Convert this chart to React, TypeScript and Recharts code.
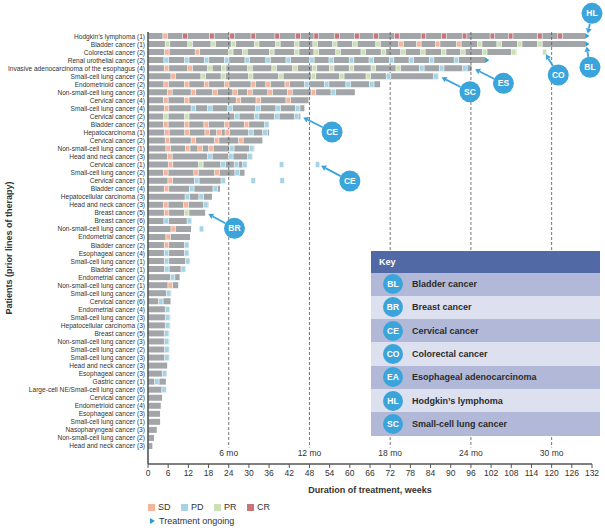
import React from 'react'
import {
  Bar,
  ComposedChart,
  ReferenceDot,
  ReferenceLine,
  Scatter,
  XAxis,
  YAxis,
} from 'recharts'

type Resp = 'SD' | 'PD' | 'PR' | 'CR'

const FONT = '"Liberation Sans", Arial, sans-serif'

const patients = [
  'Hodgkin\u2019s lymphoma (1)',
  'Bladder cancer (1)',
  'Colorectal cancer (2)',
  'Renal urothelial cancer (2)',
  'Invasive adenocarcinoma of the esophagus (4)',
  'Small-cell lung cancer (2)',
  'Endometrioid cancer (2)',
  'Non-small-cell lung cancer (3)',
  'Cervical cancer (4)',
  'Small-cell lung cancer (4)',
  'Cervical cancer (2)',
  'Bladder cancer (2)',
  'Hepatocarcinoma (1)',
  'Cervical cancer (2)',
  'Non-small-cell lung cancer (1)',
  'Head and neck cancer (3)',
  'Cervical cancer (1)',
  'Small-cell lung cancer (2)',
  'Cervical cancer (1)',
  'Bladder cancer (4)',
  'Hepatocellular carcinoma (3)',
  'Head and neck cancer (3)',
  'Breast cancer  (5)',
  'Breast cancer (6)',
  'Non-small-cell lung cancer (2)',
  'Endometrial cancer (3)',
  'Bladder cancer (2)',
  'Esophageal cancer (4)',
  'Small-cell lung cancer (1)',
  'Bladder cancer (1)',
  'Endometrial cancer (2)',
  'Non-small-cell lung cancer (1)',
  'Small-cell lung cancer (2)',
  'Cervical cancer (6)',
  'Endometrial cancer (4)',
  'Small-cell lung cancer (3)',
  'Hepatocellular carcinoma (3)',
  'Breast cancer (5)',
  'Non-small-cell lung cancer (3)',
  'Small-cell lung cancer (2)',
  'Small-cell lung cancer (3)',
  'Head and neck cancer (3)',
  'Esophageal cancer (3)',
  'Gastric cancer (1)',
  'Large-cell NE/Small-cell lung cancer (6)',
  'Cervical cancer (2)',
  'Endometrioid cancer (4)',
  'Esophageal cancer (3)',
  'Small-cell lung cancer (1)',
  'Nasopharyngeal cancer (3)',
  'Non-small-cell lung cancer (2)',
  'Head and neck cancer (3)',
]

// weeks on treatment, one per patient row
const weeksOnTreatment = [
  130, 130, 109.5, 100.2, 96.2, 86.3, 69, 61.5, 47.7, 46.5, 45.3, 36, 36, 34,
  31.6, 31, 29.3, 28.7, 22.9, 21.4, 19, 18, 17, 13, 12.8, 12.5, 12.2, 12.2,
  12.5, 11.2, 9.4, 9, 6.9, 6.7, 6.5, 6.6, 6.6, 6.3, 6.3, 6.3, 6.3, 5.7, 5.6,
  5.3, 5.3, 4.2, 3.8, 3.6, 3.6, 2.6, 1.8, 1.3,
]

// rows still on treatment
const ongoingRows = [0, 1, 3]

// response assessments per row (week of each scan)
const visits: [Resp, number[]][][] = [
  [['SD', [5.1]], ['CR', [11, 19, 25, 31.3, 38.4, 44.6, 50, 56.2, 62.1, 67.8, 74, 81.9, 88, 94.1, 102.4, 107.8, 116.5, 122.5]]],
  [['PR', [5.8, 12.5, 19.4, 25.4, 32.3, 38.6, 44.2, 49.7, 55.5, 61.5, 68.4, 98.6, 104.4, 110.5, 116.5]], ['SD', [75.2, 80.5, 86.1, 92.4]]],
  [['SD', [5.6, 14.7]], ['PR', [24.6, 28.8, 36.8, 44.2, 50, 56.5, 64, 70, 75.8, 81.7, 87.9, 93.6, 100.1, 108.7, 117.9]]],
  [['PD', [5.4, 11.5, 17.4, 23.4, 29.5, 35.7, 41.7, 48.7, 54.5, 60.5, 66.4, 72.4, 78.3, 84.3, 91.7]]],
  [['SD', [5.5, 12.5]], ['PR', [18.4, 22.5, 30.3, 37.5, 43.7, 49.5, 54.6, 60.5, 67, 74.4]], ['PD', [81.4, 87.3, 94.2]]],
  [['SD', [7.5]], ['PR', [16.4, 22.4, 30.5, 39.5, 49.2, 57.6, 65.5]], ['PD', [71.5, 85.6]]],
  [['SD', [5.4, 11.5, 17.4, 23.4, 31.3, 35.7, 41.4]], ['PD', [47.2, 53.1, 59.5, 66.5]]],
  [['SD', [6.5, 13.5, 19.9, 25.9, 30.3, 36.3, 42.2, 49.2]], ['PD', [55.1]]],
  [['SD', [5.3, 11.5, 26.9, 32.8, 41.7]]],
  [['SD', [5.5]], ['PD', [13.5, 18.4, 24.4, 32.7, 38.7, 44.5]]],
  [['PR', [5.3, 11.5]], ['PD', [26.4, 32.3, 38.3, 44.2]]],
  [['SD', [5.3, 11.5, 17.3, 23.4, 29.3]], ['PD', [35.3]]],
  [['SD', [5.6, 11.6, 17.6, 21.1, 23.6]], ['PD', [30.6, 34.8]]],
  [['SD', [5.8, 13.5, 20.4, 27.6]]],
  [['SD', [6, 11.8, 15.5, 18.7]], ['PD', [24.9, 30.8]]],
  [['SD', [6.5]], ['PD', [18.4, 24.6, 30.3]]],
  [['SD', [6.7]], ['PR', [15.7]], ['PD', [22.3, 26.3, 28.8, 39.7, 50.4]]],
  [['SD', [5.3, 14.3, 20.5]], ['PD', [26.5]]],
  [['SD', [6.6]], ['PD', [14.5, 22.4, 31.3, 39.9]]],
  [['SD', [5.5]], ['PD', [13, 20]]],
  [['PD', [11.7, 15.8]]],
  [['SD', [5.3, 11.3]], ['PD', [17.2]]],
  [['SD', [5.5]], ['PR', [11.5]]],
  [['PD', [5.4, 12.3]]],
  [['SD', [7.5]], ['PD', [15.9]]],
  [['SD', [6]]],
  [['SD', [5.5]], ['PD', [11.5]]],
  [['PD', [5.5, 11.5]]],
  [['PD', [5.5, 11.8]]],
  [['PD', [5.6, 10.5]]],
  [['PD', [7.3]]],
  [['SD', [6.6]]],
  [['PD', [6.1]]],
  [['PD', [3.8]]],
  [['PD', [5.8]]],
  [['PD', [5.8]]],
  [['PD', [5.8]]],
  [['PD', [5.5]]],
  [['PD', [5.5]]],
  [['PD', [5.6]]],
  [['PD', [5.6]]],
  [],
  [['PD', [4.9]]],
  [['PD', [2.6]]],
  [['PD', [4.8]]],
  [],
  [],
  [],
  [],
  [],
  [],
  [],
]

const weekTicks = [0, 6, 12, 18, 24, 30, 36, 42, 48, 54, 60, 66, 72, 78, 84, 90, 96, 102, 108, 114, 120, 126, 132]
const monthMarks: [number, string][] = [[24, '6 mo'], [48, '12 mo'], [72, '18 mo'], [96, '24 mo'], [120, '30 mo']]

// callout bubbles: abbreviation, row, week they point at, bubble offset in px
const callouts: [string, number, number, number, number][] = [
  ['HL', 0, 130.6, 4.7, -22.7],
  ['BL', 1, 130.3, 3.7, 23.2],
  ['CO', 2, 117.9, 13.7, 22.9],
  ['ES', 4, 96.6, 30.5, 15.2],
  ['SC', 5, 86.6, 30.7, 15.5],
  ['CE', 10, 45.5, 31, 15.6],
  ['CE', 16, 50.8, 31, 16.4],
  ['BR', 22, 17.3, 28.3, 15.5],
]

const keyEntries: [string, string][] = [
  ['BL', 'Bladder cancer'],
  ['BR', 'Breast cancer'],
  ['CE', 'Cervical cancer'],
  ['CO', 'Colorectal cancer'],
  ['EA', 'Esophageal adenocarcinoma'],
  ['HL', 'Hodgkin\u2019s lymphoma'],
  ['SC', 'Small-cell lung cancer'],
]

const respOrder: Resp[] = ['SD', 'PD', 'PR', 'CR']
const respColor: Record<Resp, string> = {
  SD: '#f4b59c',
  PD: '#a6d4e4',
  PR: '#cde0b5',
  CR: '#c8757a',
}
const BAR_GRAY = '#a2a6a9'
const BUBBLE = '#3ba4da'
const ONGOING = '#2d9ccf'

const rows = patients.map((label, row) => ({ row, label, dur: weeksOnTreatment[row] }))
const scans = visits.flatMap((list, row) =>
  list.flatMap(([resp, weeks]) => weeks.map((week) => ({ row, week, resp })))
)
const ongoing = ongoingRows.map((row) => ({ row, week: weeksOnTreatment[row] }))

function PatientTick(props: any) {
  const { x, y, payload } = props
  return (
    <text x={x + 1} y={y} textAnchor="end" dominantBaseline="central" fontSize={6.6} fill="#333">
      {patients[payload.value]}
    </text>
  )
}

function ScanMark(props: any) {
  const { cx, cy, payload } = props
  if (cx == null || cy == null) return null
  return (
    <rect
      x={cx - 2.3}
      y={cy - 3}
      width={4.6}
      height={6}
      fill={respColor[payload.resp as Resp]}
      stroke="#fff"
      strokeWidth={0.6}
    />
  )
}

function OngoingMark(props: any) {
  const { cx, cy } = props
  if (cx == null || cy == null) return null
  return <polygon points={`${cx},${cy - 2.8} ${cx},${cy + 2.8} ${cx + 4.2},${cy}`} fill={ONGOING} />
}

function Bubble({ cx, cy, code, dx, dy }: { cx: number; cy: number; code: string; dx: number; dy: number }) {
  const bx = cx + dx
  const by = cy + dy
  const len = Math.hypot(dx, dy)
  const ux = -dx / len
  const uy = -dy / len
  const r = 10.5
  const tipX = cx - ux * 2.5
  const tipY = cy - uy * 2.5
  const baseX = tipX - ux * 5
  const baseY = tipY - uy * 5
  const nx = -uy
  const ny = ux
  return (
    <g>
      <line x1={bx + ux * r} y1={by + uy * r} x2={baseX} y2={baseY} stroke={BUBBLE} strokeWidth={1.8} />
      <polygon
        points={`${tipX},${tipY} ${baseX + nx * 3},${baseY + ny * 3} ${baseX - nx * 3},${baseY - ny * 3}`}
        fill={BUBBLE}
      />
      <circle cx={bx} cy={by} r={r} fill={BUBBLE} />
      <text
        x={bx}
        y={by}
        textAnchor="middle"
        dominantBaseline="central"
        fill="#fff"
        fontSize={8.5}
        fontWeight="bold"
      >
        {code}
      </text>
    </g>
  )
}

function KeyBox() {
  return (
    <div
      style={{
        position: 'absolute',
        left: 371,
        top: 251,
        width: 229,
        fontFamily: FONT,
        fontWeight: 'bold',
        fontSize: 9,
      }}
    >
      <div
        style={{
          height: 21.5,
          background: '#5169a5',
          color: '#fff',
          display: 'flex',
          alignItems: 'center',
          paddingLeft: 8,
        }}
      >
        Key
      </div>
      {keyEntries.map(([code, name], i) => (
        <div
          key={code}
          style={{
            height: 23.3,
            background: i % 2 === 0 ? '#b2b9d8' : '#dde0ef',
            display: 'flex',
            alignItems: 'center',
            color: '#2b2b2b',
          }}
        >
          <div
            style={{
              width: 20,
              height: 20,
              borderRadius: 10,
              background: BUBBLE,
              color: '#fff',
              fontSize: 8.5,
              marginLeft: 12,
              marginRight: 9,
              display: 'flex',
              alignItems: 'center',
              justifyContent: 'center',
            }}
          >
            {code}
          </div>
          {name}
        </div>
      ))}
    </div>
  )
}

function ResponseLegend() {
  return (
    <div style={{ position: 'absolute', left: 148, top: 501, fontFamily: FONT, fontSize: 9, color: '#333' }}>
      <div style={{ display: 'flex', alignItems: 'center', height: 12 }}>
        {respOrder.map((r) => (
          <div key={r} style={{ display: 'flex', alignItems: 'center', marginRight: 10.5 }}>
            <div style={{ width: 7, height: 7, background: respColor[r], marginRight: 3 }} />
            {r}
          </div>
        ))}
      </div>
      <div style={{ display: 'flex', alignItems: 'center', height: 12, marginTop: 2 }}>
        <svg width={8} height={8} style={{ marginLeft: 2, marginRight: 1 }}>
          <polygon points="0,1 0,7 5,4" fill={ONGOING} />
        </svg>
        Treatment ongoing
      </div>
    </div>
  )
}

export default function App() {
  return (
    <div
      style={{
        position: 'absolute',
        left: 0,
        top: 0,
        width: 605,
        height: 530,
        overflow: 'hidden',
        fontFamily: FONT,
      }}
    >
      <ComposedChart
        width={605}
        height={530}
        data={rows}
        layout="vertical"
        margin={{ top: 32, right: 13, left: 0, bottom: 30 }}
      >
        <XAxis
          type="number"
          domain={[0, 132]}
          ticks={weekTicks}
          interval={0}
          height={36}
          tick={{ fontSize: 8.5, fill: '#333' }}
          tickSize={4}
          tickMargin={2}
          axisLine={{ stroke: '#555', strokeWidth: 1.4 }}
          tickLine={{ stroke: '#555' }}
          label={{
            content: (p: any) => (
              <text
                x={p.viewBox.x + p.viewBox.width / 2}
                y={p.viewBox.y + 29}
                textAnchor="middle"
                fontSize={9}
                fontWeight="bold"
                fill="#333"
              >
                Duration of treatment, weeks
              </text>
            ),
          }}
        />
        <YAxis
          type="number"
          dataKey="row"
          domain={[-0.5, 51.5]}
          ticks={rows.map((r) => r.row)}
          interval={0}
          width={148}
          padding={{ top: 0, bottom: 14 }}
          tick={<PatientTick />}
          tickLine={false}
          tickSize={2}
          tickMargin={2}
          axisLine={{ stroke: '#555', strokeWidth: 1.6 }}
          label={{
            content: (p: any) => {
              const x = p.viewBox.x + 12
              const y = p.viewBox.y + p.viewBox.height / 2
              return (
                <text
                  x={x}
                  y={y}
                  transform={`rotate(-90, ${x}, ${y})`}
                  textAnchor="middle"
                  fontSize={9}
                  fontWeight="bold"
                  fill="#333"
                >
                  Patients (prior lines of therapy)
                </text>
              )
            },
          }}
        />
        <Bar dataKey="dur" fill={BAR_GRAY} barSize={6} isAnimationActive={false} />
        {monthMarks.map(([w, text]) => (
          <ReferenceLine
            key={text}
            segment={[
              { x: w, y: -0.5 },
              { x: w, y: 51.2 },
            ]}
            stroke="#555"
            strokeWidth={0.8}
            strokeDasharray="3 2"
            ifOverflow="visible"
            label={{ value: text, position: 'bottom', offset: 2, fontSize: 8.5, fill: '#333' }}
          />
        ))}
        <Scatter data={scans} dataKey="week" shape={ScanMark} isAnimationActive={false} />
        <Scatter data={ongoing} dataKey="week" shape={OngoingMark} isAnimationActive={false} />
        {callouts.map(([code, row, week, dx, dy], i) => (
          <ReferenceDot
            key={i}
            x={week}
            y={row}
            r={0}
            ifOverflow="visible"
            shape={(p: any) => <Bubble cx={p.cx} cy={p.cy} code={code} dx={dx} dy={dy} />}
          />
        ))}
      </ComposedChart>
      <KeyBox />
      <ResponseLegend />
    </div>
  )
}
